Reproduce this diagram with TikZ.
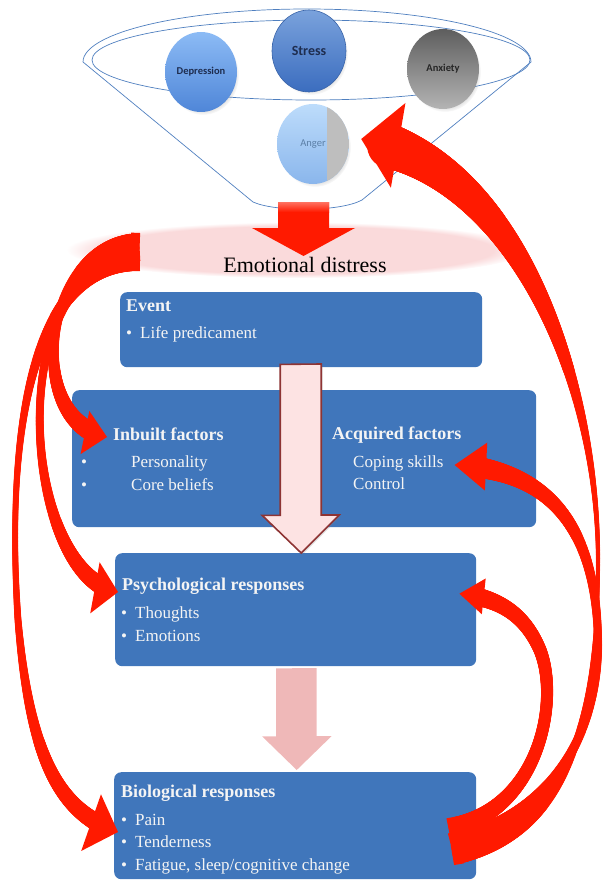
\documentclass[tikz,border=0pt]{standalone}
\usepackage{fontspec}
\setmainfont{Liberation Serif}
\newfontfamily\bubblefont{Carlito}
\usepackage{tikz}
\usetikzlibrary{shapes.geometric}
\usetikzlibrary{decorations.markings}
\usetikzlibrary{fadings}
\usetikzlibrary{shadows}
\usetikzlibrary{calc}
\definecolor{boxblue}{HTML}{4076BB}
\definecolor{boxtext}{HTML}{F4F4F4}
\definecolor{funnelline}{HTML}{4F7FBF}
\definecolor{fatred}{HTML}{FF1A00}
\definecolor{spoutsalmon}{HTML}{FF7261}
\definecolor{distresspink}{HTML}{FADADB}
\definecolor{hollowfill}{HTML}{FDE3E3}
\definecolor{hollowedge}{HTML}{8E3434}
\definecolor{softpink}{HTML}{EFB8B8}
\definecolor{deptop}{HTML}{8CBBF5}
\definecolor{depbottom}{HTML}{4F86D8}
\definecolor{stresstop}{HTML}{7AA2DC}
\definecolor{stressbottom}{HTML}{3B6DBF}
\definecolor{stressedge}{HTML}{3A64A8}
\definecolor{anxtop}{HTML}{5E5E5E}
\definecolor{anxbottom}{HTML}{B4B4B4}
\definecolor{angertop}{HTML}{BDDCFB}
\definecolor{angerbottom}{HTML}{8AB6EC}
\definecolor{angergrey}{HTML}{BEBEBE}
\definecolor{angerink}{HTML}{5B7FA6}
\definecolor{bubbleink}{HTML}{1E2D4F}
\tikzset{stage/.style = {rectangle, rounded corners = 7pt, fill = boxblue, inner sep = 0pt, anchor = north west},
         head/.style = {anchor = base west, inner sep = 0pt, text = boxtext, font = \bfseries\fontsize{18}{20}\selectfont},
         entry/.style = {anchor = base west, inner sep = 0pt, text = boxtext, font = \fontsize{17}{19}\selectfont},
         bubble/.style = {ellipse, inner sep = 0pt, minimum width = 72pt, minimum height = 80pt, text = bubbleink,
                          font = \bubblefont\fontsize{10.5}{12}\selectfont,
                          circular drop shadow = {shadow xshift = 2pt, shadow yshift = -3pt, shadow scale = 1, opacity = 0.3}},
         funnel/.style = {draw = funnelline, line width = 0.7pt},
         fat arrow/.style n args = {5}{postaction = {decoration = {markings,
                                         mark = at position 0 with {\fill [fatred] (0, -#1pt) rectangle (#1pt, #1pt);},
                                         mark = between positions #1pt and -#5pt step 0.8pt with {%
                                           \pgfmathsetmacro{\fatt}{\pgfkeysvalueof{/pgf/decoration/mark info/distance from start}/\pgfdecoratedpathlength}%
                                           \pgfmathsetmacro{\fatr}{#1*(1-\fatt)*(1-2*\fatt) + 4*#2*\fatt*(1-\fatt) + #3*\fatt*(2*\fatt-1)}%
                                           \fill [fatred] (0, 0) circle [radius = \fatr pt];}}, decorate},
                                       postaction = {decoration = {markings,
                                         mark = at position -0.5pt with {\fill [fatred] (-#5pt, #4pt) -- (0.5pt, 0) -- (-#5pt, -#4pt) -- cycle;}},
                                         decorate}}}

\begin{document}
\begin{tikzpicture}[x = 1pt, y = 1pt]
    \useasboundingbox (0, 0) rectangle (604, -880);
    \draw [funnel] (83, -62) arc [start angle = 180, end angle = 0, x radius = 224, y radius = 53]
          -- (362, -200) .. controls (340, -212) and (275, -212) .. (253, -202) -- cycle;
    \draw [funnel] (311, -60) ellipse [x radius = 219, y radius = 40];
    \node [bubble, top color = deptop, bottom color = depbottom] (depression) at (201, -72) {\bfseries Depression};
    \node [bubble, top color = stresstop, bottom color = stressbottom, draw = stressedge, line width = 0.6pt,
           minimum width = 74pt, minimum height = 82pt] (stress) at (309, -51) {\bfseries\fontsize{14}{16}\selectfont Stress};
    \node [bubble, top color = anxtop, bottom color = anxbottom, text = black!85] (anxiety) at (443, -69) {\bfseries Anxiety};
    \node [bubble, top color = angertop, bottom color = angerbottom, text = angerink,
           path picture = {\fill [angergrey] ([xshift = 14pt]path picture bounding box.south) rectangle (path picture bounding box.north east);}]
          (anger) at (313, -144) {Anger};
    \node [ellipse, fill = distresspink, path fading = circle with fuzzy edge 15 percent, inner sep = 0pt,
           minimum width = 460pt, minimum height = 56pt] (distress) at (297, -250) {};
    \coordinate (spout) at (303.5, -202);
    \fill [fatred] ([xshift = -25.5pt]spout) -- ++(0, -26) -- ++(-26, 0) -- ++(51.5, -28) -- ++(51.5, 28) -- ++(-26, 0) -- ++(0, 26) -- cycle;
    \fill [top color = spoutsalmon, bottom color = fatred] ([xshift = -25.5pt]spout) rectangle ++(51, -10);
    \node [anchor = base, inner sep = 0pt, font = \fontsize{22}{26}\selectfont] (distresslabel) at (305, -272) {Emotional distress};

    \node [stage, minimum width = 362pt, minimum height = 75pt] (event) at (120, -292) {};
    \node [stage, minimum width = 464pt, minimum height = 137pt] (factors) at (72, -390) {};
    \node [stage, minimum width = 361pt, minimum height = 113pt] (psych) at (115, -553) {};
    \node [stage, minimum width = 362pt, minimum height = 107pt] (bio) at (114, -772) {};

    \node [head] (eventtitle) at (126, -311) {Event};
    \node [entry] (life) at (126, -338) {\makebox[14pt][l]{\textbullet}Life predicament};
    \node [head] (inbuilt) at (113, -440) {Inbuilt factors};
    \node [entry] (personality) at (81, -467) {\makebox[50pt][l]{\textbullet}Personality};
    \node [entry] (beliefs) at (81, -490) {\makebox[50pt][l]{\textbullet}Core beliefs};
    \node [head] (acquired) at (332, -439) {Acquired factors};
    \node [entry] (coping) at (353, -467) {Coping skills};
    \node [entry] (control) at (353, -489) {Control};
    \node [head] (psychtitle) at (122, -590) {Psychological responses};
    \node [entry] (thoughts) at (121, -618) {\makebox[14pt][l]{\textbullet}Thoughts};
    \node [entry] (emotions) at (121, -641) {\makebox[14pt][l]{\textbullet}Emotions};
    \node [head] (biotitle) at (121, -797) {Biological responses};
    \node [entry] (pain) at (121, -825) {\makebox[14pt][l]{\textbullet}Pain};
    \node [entry] (tenderness) at (121, -847) {\makebox[14pt][l]{\textbullet}Tenderness};
    \node [entry] (fatigue) at (121, -870) {\makebox[14pt][l]{\textbullet}Fatigue, sleep/cognitive change};

    \filldraw [fill = hollowfill, draw = hollowedge, line width = 1.6pt,
               drop shadow = {opacity = 0.25, shadow xshift = 1.5pt, shadow yshift = -1.5pt}]
          ([shift = {(-21, 3)}]event.south) -- ++(0, -151) -- ++(-18, 0) -- (event.south |- psych.north)
          -- ++(38, 38) -- ++(-18, 0) -- ++(0, 151) -- cycle;
    \fill [softpink] ([shift = {(-19.5, -2)}]psych.south) -- ++(0, -68) -- ++(-14, 0) -- ([shift = {(1.5, 2)}]bio.north)
          -- ++(35, 34) -- ++(-15, 0) -- ++(0, 68) -- cycle;

    \coordinate (lefttail1) at ([shift = {(73, 8)}]distress.west);
    \coordinate (lefttail2) at ([shift = {(73, -2)}]distress.west);
    \coordinate (lefttail3) at ([shift = {(73, -12)}]distress.west);
    \coordinate (biotail1) at ([shift = {(-24, -29.5)}]bio.east);
    \coordinate (biotail2) at ([shift = {(-26, -17.5)}]bio.east);
    \coordinate (biotail3) at ([shift = {(-28, -2.5)}]bio.east);
    \path [fat arrow = {9}{5}{11}{22}{22}] (lefttail1) .. controls (45, -238) and (20, -420) .. ([shift = {(-6, 3)}]inbuilt.base west);
    \path [fat arrow = {9}{4}{10}{26}{23}] (lefttail2) .. controls (0, -260) and (20, -575) .. ([shift = {(-4, -2)}]psychtitle.base west);
    \path [fat arrow = {9}{3}{10}{30}{28}] (lefttail3) .. controls (10, -265) and (10, -500) .. (18, -620)
          .. controls (30, -760) and (60, -812) .. ([shift = {(-3, -7)}]pain.base west);
    \path [fat arrow = {10}{3}{25}{43}{37}] (biotail1) .. controls (570, -835) and (598, -720) .. (598, -560)
          .. controls (598, -380) and (515, -165) .. ([shift = {(12, 5)}]anger.east);
    \path [fat arrow = {10}{4}{12}{24}{31}] (biotail2) .. controls (560, -815) and (600, -720) .. (598, -640)
          .. controls (596, -540) and (560, -470) .. ([shift = {(11, 2)}]coping.base east);
    \path [fat arrow = {10}{6}{10}{18}{24}] (biotail3) .. controls (540, -810) and (560, -700) .. (540, -650)
          .. controls (525, -615) and (500, -598) .. ([shift = {(-17, 16)}]psych.east);
\end{tikzpicture}
\end{document}
